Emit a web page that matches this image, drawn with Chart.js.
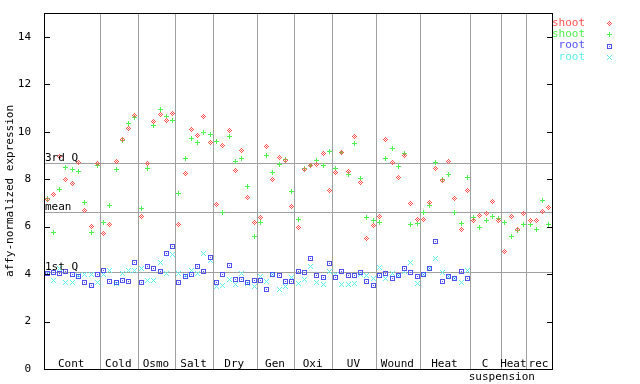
<!DOCTYPE html>
<html>
<head>
<meta charset="utf-8">
<script src="https://cdn.jsdelivr.net/npm/chart.js@4/dist/chart.umd.min.js"></script>
<style>
  html, body { margin: 0; padding: 0; background: #fff; }
  #wrap { width: 640px; height: 384px; }
</style>
</head>
<body>
<div id="wrap"><canvas id="c" width="640" height="384"></canvas></div>
<script>
// groups along the x axis (one slot per sample)
const groups = ['Cont', 'Cold', 'Osmo', 'Salt', 'Dry', 'Gen', 'Oxi', 'UV', 'Wound', 'Heat', 'C', 'Heat', 'rec'];
const groupSizes = [9, 6, 6, 6, 7, 6, 6, 7, 7, 8, 5, 4, 4];
const extraLabel = 'suspension';

const seriesNames = ['shoot', 'shoot', 'root', 'root'];
const seriesColors = ['#ff5050', '#50f050', '#5050f0', '#60f0f0'];

const shootA = [7.16, 7.34, 8.95, 7.97, 7.82, 8.72, 6.69, 6.02, 8.65,
  5.72, 6.10, 8.76, 9.66, 10.15, 10.70,
  6.44, 8.65, 10.42, 10.74, 10.49, 10.75,
  6.07, 8.22, 10.11, 9.85, 10.66, 9.56,
  6.95, 9.43, 10.07, 8.38, 9.22, 7.24, 6.19,
  6.37, 9.39, 8.00, 8.93, 8.80, 6.86,
  5.98, 8.42, 8.59, 8.63, 9.06, 7.54,
  8.30, 9.14, 8.34, 9.81, 7.87, 5.51, 6.06,
  6.44, 9.65, 8.68, 8.08, 9.01, 6.99, 6.31,
  6.31, 7.03, 8.46, 7.96, 8.76, 7.20, 5.89, 7.54,
  6.27, 6.48, 6.57, 7.07, 6.27,
  4.96, 6.44, 5.89, 6.57,
  6.27, 6.27, 6.65, 6.82];

const shootB = [7.20, 5.74, 7.55, 8.51, 8.39, 8.34, 7.03, 5.77, 8.56,
  6.19, 6.87, 8.42, 9.63, 10.36, 10.59,
  6.78, 8.46, 10.28, 10.92, 10.66, 10.45,
  7.38, 8.89, 9.73, 9.56, 9.98, 9.90,
  9.60, 6.61, 9.81, 8.76, 8.89, 7.71, 5.60,
  6.19, 9.01, 8.30, 8.63, 8.84, 7.49,
  6.31, 8.46, 8.56, 8.80, 8.59, 9.18,
  8.46, 9.14, 8.21, 9.52, 8.04, 6.40, 6.27,
  6.19, 8.89, 9.27, 8.55, 9.10, 6.10, 6.14,
  6.61, 6.90, 8.72, 8.00, 8.21, 6.61, 6.14, 8.08,
  6.40, 5.98, 6.27, 6.44, 6.36,
  6.19, 5.60, 5.85, 6.10,
  6.10, 5.89, 7.11, 6.10];

const rootA = [4.04, 4.08, 4.04, 4.12, 3.99, 3.91, 3.66, 3.53, 3.99,
  4.16, 3.70, 3.66, 3.74, 3.70, 4.50,
  3.66, 4.33, 4.25, 4.12, 4.88, 5.18,
  3.66, 3.91, 3.99, 4.33, 4.12, 4.71,
  3.66, 3.99, 4.37, 3.78, 3.78, 3.66, 3.74,
  3.74, 3.36, 3.99, 3.95, 3.70, 3.70,
  4.12, 4.08, 4.67, 3.95, 3.87, 4.46,
  3.87, 4.12, 3.95, 3.95, 4.08, 3.70, 3.53,
  3.95, 4.04, 3.83, 3.95, 4.25, 4.08, 3.91,
  3.99, 4.25, 5.39, 3.70, 3.91, 3.83, 4.12, 3.83,
  null, null, null, null, null,
  null, null, null, null,
  null, null, null, null];

const rootB = [4.04, 3.74, 4.25, 3.66, 3.66, 3.95, 4.00, 4.00, 3.66,
  3.99, 4.16, 3.61, 4.04, 4.16, 4.16,
  4.25, 3.74, 3.74, 4.50, 4.04, 4.84,
  4.04, 3.95, 4.16, 4.04, 4.88, 4.58,
  3.49, 3.53, 3.78, 3.57, 4.04, 3.61, 3.49,
  3.91, 3.70, 3.99, 3.36, 3.49, 3.87,
  3.61, 3.78, 4.33, 3.66, 3.57, 4.12,
  4.00, 3.57, 3.57, 3.61, 3.99, 3.95, 3.83,
  4.29, 3.83, 4.04, 3.95, 4.12, 4.50, 3.61,
  3.99, 4.25, 4.67, 4.08, 3.91, 3.83, 3.66, 4.16,
  null, null, null, null, null,
  null, null, null, null,
  null, null, null, null];

// reference lines
const refLines = [
  { label: '3rd Q', value: 8.69 },
  { label: 'mean', value: 6.62 },
  { label: '1st Q', value: 4.09 }
];
const yTicks = [0, 2, 4, 6, 8, 10, 12, 14];

const FONT = '11px "DejaVu Sans Mono", monospace';
const GRID = '#a0a0a0';

// little bitmap markers, 5x5
function makeMarker(color, kind) {
  const c = document.createElement('canvas');
  c.width = 5; c.height = 5;
  const g = c.getContext('2d');
  g.fillStyle = color;
  for (let y = 0; y < 5; y++) {
    for (let x = 0; x < 5; x++) {
      const dx = x - 2, dy = y - 2;
      let on = false;
      if (kind === 'diamond') on = Math.abs(dx) + Math.abs(dy) <= 2 && (dx + dy) % 2 === 0;
      if (kind === 'plus') on = dx === 0 || dy === 0;
      if (kind === 'square') on = Math.abs(dx) === 2 || Math.abs(dy) === 2 || (dx === 0 && dy === 0);
      if (kind === 'cross') on = Math.abs(dx) === Math.abs(dy);
      if (on) g.fillRect(x, y, 1, 1);
    }
  }
  return c;
}
const markerKinds = ['diamond', 'plus', 'square', 'cross'];
const markers = markerKinds.map((k, i) => makeMarker(seriesColors[i], k));

const nSlots = groupSizes.reduce((a, b) => a + b, 0);
const bounds = [0];
groupSizes.forEach(n => bounds.push(bounds[bounds.length - 1] + n));

function toPoints(arr) {
  const out = [];
  arr.forEach((v, i) => { if (v != null) out.push({ x: i + 0.5, y: v }); });
  return out;
}

const allSeries = [shootA, shootB, rootA, rootB];

function noPad(scale) {
  scale.paddingTop = 0;
  scale.paddingBottom = 0;
  scale.paddingLeft = 0;
  scale.paddingRight = 0;
}

const decorPlugin = {
  id: 'decor',
  beforeDatasetsDraw(chart) {
    const ctx = chart.ctx, a = chart.chartArea, ys = chart.scales.y;
    ctx.save();
    ctx.fillStyle = GRID;
    refLines.forEach(r => {
      const py = Math.round(ys.getPixelForValue(r.value));
      ctx.fillRect(a.left, py, a.right - a.left, 1);
    });
    ctx.restore();
    ctx.imageSmoothingEnabled = false;
  },
  afterDraw(chart) {
    const ctx = chart.ctx, a = chart.chartArea, ys = chart.scales.y, xs = chart.scales.x;
    ctx.save();
    // frame
    ctx.fillStyle = '#000';
    const L = Math.round(a.left), R = Math.round(a.right), T = Math.round(a.top), B = Math.round(a.bottom);
    ctx.fillRect(L, T, R - L + 1, 1);
    ctx.fillRect(L, B, R - L + 1, 1);
    ctx.fillRect(L, T, 1, B - T + 1);
    ctx.fillRect(R, T, 1, B - T + 1);
    // inward tick marks on both sides
    yTicks.forEach(v => {
      const py = Math.round(ys.getPixelForValue(v));
      ctx.fillRect(L, py, 6, 1);
      ctx.fillRect(R - 5, py, 6, 1);
    });
    // reference line labels
    ctx.font = FONT;
    ctx.fillStyle = '#000';
    ctx.textAlign = 'left';
    ctx.textBaseline = 'bottom';
    refLines.forEach(r => {
      const py = Math.round(ys.getPixelForValue(r.value));
      ctx.fillText(r.label, L + 1, py + 1);
    });
    // group labels
    ctx.textAlign = 'center';
    ctx.textBaseline = 'middle';
    groups.forEach((g, i) => {
      const cx = xs.getPixelForValue((bounds[i] + bounds[i + 1]) / 2);
      ctx.fillText(g, cx - 1, B - 5);
    });
    ctx.fillText(extraLabel, xs.getPixelForValue(bounds[11]), B + 8);
    // legend
    ctx.textAlign = 'right';
    ctx.imageSmoothingEnabled = false;
    seriesNames.forEach((n, i) => {
      const py = 23 + i * 11.3;
      ctx.fillStyle = seriesColors[i];
      ctx.fillText(n, 585, py);
      ctx.drawImage(markers[i], 607, Math.round(py) - 2);
    });
    ctx.restore();
  }
};

new Chart(document.getElementById('c'), {
  type: 'scatter',
  data: {
    datasets: allSeries.map((s, i) => ({
      label: seriesNames[i],
      data: toPoints(s),
      pointStyle: markers[i],
      pointRadius: 3,
      borderColor: seriesColors[i],
      backgroundColor: seriesColors[i],
      showLine: false
    }))
  },
  options: {
    responsive: false,
    animation: false,
    events: [],
    layout: { padding: { top: 13, right: 88, left: 0, bottom: 0 } },
    plugins: { legend: { display: false }, tooltip: { enabled: false } },
    scales: {
      x: {
        type: 'linear',
        min: 0,
        max: nSlots,
        afterBuildTicks: axis => { axis.ticks = bounds.map(v => ({ value: v })); },
        afterFit: scale => { scale.height = 15; noPad(scale); },
        ticks: { display: false },
        grid: { color: GRID, lineWidth: 1, drawTicks: false },
        border: { display: false }
      },
      y: {
        min: 0,
        max: 15,
        afterBuildTicks: axis => { axis.ticks = yTicks.map(v => ({ value: v })); },
        afterFit: scale => { scale.width = 44; noPad(scale); },
        ticks: { padding: 13, color: '#000', font: { family: '"DejaVu Sans Mono", monospace', size: 11 } },
        grid: { display: false, drawTicks: false },
        border: { display: false },
        title: {
          display: true,
          text: 'affy-normalized expression',
          color: '#000',
          font: { family: '"DejaVu Sans Mono", monospace', size: 11 },
          padding: { top: 4, bottom: 4 }
        }
      }
    }
  },
  plugins: [decorPlugin]
});
</script>
</body>
</html>
